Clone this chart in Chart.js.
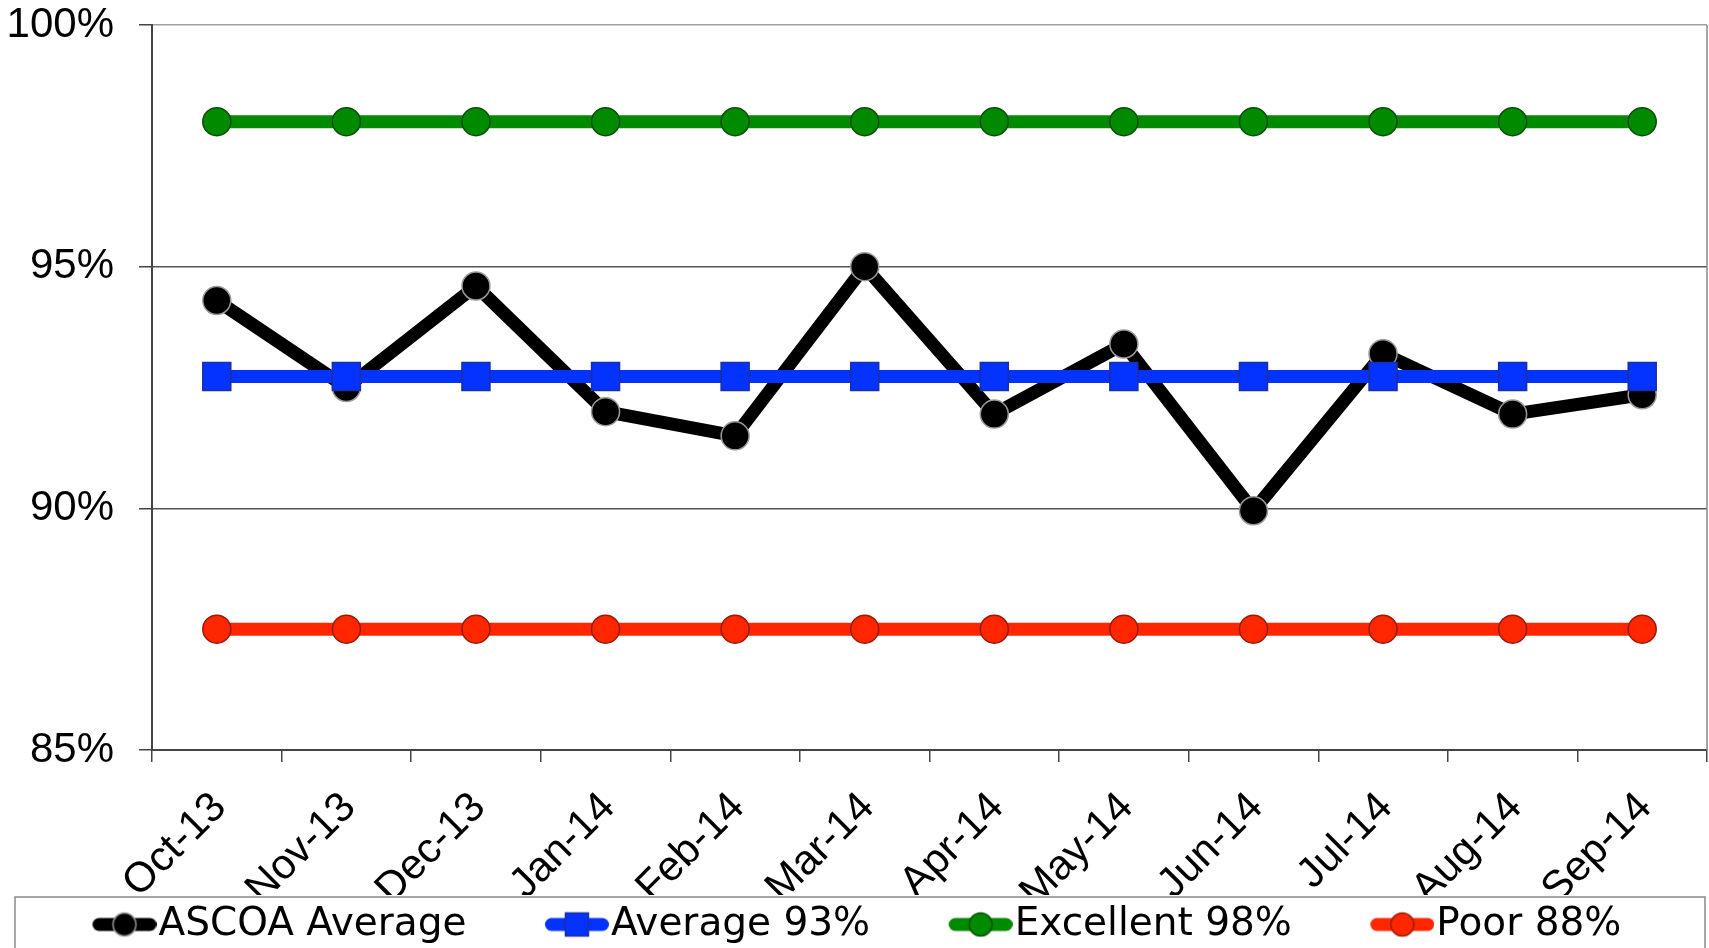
<!DOCTYPE html>
<html>
<head>
<meta charset="utf-8">
<script src="https://cdn.jsdelivr.net/npm/chart.js@4.4.1/dist/chart.umd.min.js"></script>
<style>
  html, body { margin: 0; padding: 0; background: #fff; }
  #wrap { width: 1709px; height: 948px; position: relative; }
</style>
</head>
<body>
<div id="wrap"><canvas id="c"></canvas></div>
<script>
// Monthly categories
const months = ['Oct-13', 'Nov-13', 'Dec-13', 'Jan-14', 'Feb-14', 'Mar-14',
                'Apr-14', 'May-14', 'Jun-14', 'Jul-14', 'Aug-14', 'Sep-14'];

// Series values (percent)
const ascoaAverage = [94.3, 92.5, 94.6, 92.0, 91.5, 95.0, 91.95, 93.4, 89.95, 93.2, 91.95, 92.35];
const average93    = [92.73, 92.73, 92.73, 92.73, 92.73, 92.73, 92.73, 92.73, 92.73, 92.73, 92.73, 92.73];
const excellent98  = [98, 98, 98, 98, 98, 98, 98, 98, 98, 98, 98, 98];
const poor88       = [87.5, 87.5, 87.5, 87.5, 87.5, 87.5, 87.5, 87.5, 87.5, 87.5, 87.5, 87.5];

// Series names
const seriesNames = ['ASCOA Average', 'Average 93%', 'Excellent 98%', 'Poor 88%'];

// Y axis range and tick step
const yMin = 85, yMax = 100, yStep = 5;

const AXIS_FONT = 'Liberation Sans, Arial, sans-serif';
const LEGEND_FONT = 'DejaVu Sans, Verdana, sans-serif';

// Legend swatch: thick rounded line with the series marker in the middle
function legendSwatch(color, markerFill, markerStroke, shape) {
  const w = 150, h = 32;
  const cv = document.createElement('canvas');
  cv.width = w; cv.height = h;
  const g = cv.getContext('2d');
  const x0 = w - 64 + 6.5, x1 = w - 6.5, cy = h / 2;
  g.strokeStyle = color;
  g.lineWidth = 13;
  g.lineCap = 'round';
  g.beginPath(); g.moveTo(x0, cy); g.lineTo(x1, cy); g.stroke();
  const cx = w - 32;
  g.fillStyle = markerFill;
  g.strokeStyle = markerStroke;
  g.lineWidth = 1.5;
  g.beginPath();
  if (shape === 'rect') {
    g.rect(cx - 11.5, cy - 11.5, 23, 23);
  } else {
    g.arc(cx, cy, 11.5, 0, Math.PI * 2);
  }
  g.fill(); g.stroke();
  return cv;
}

const styles = [
  { line: '#000000', fill: '#000000', stroke: '#9a9a9a', shape: 'circle', radius: 14, order: 2 },
  { line: '#0433FF', fill: '#0433FF', stroke: '#1b2f9e', shape: 'rect',   radius: 19.8, order: 1 },
  { line: '#008A00', fill: '#008A00', stroke: '#0b4d0b', shape: 'circle', radius: 14, order: 3 },
  { line: '#FF2600', fill: '#FF2600', stroke: '#9a1a00', shape: 'circle', radius: 14, order: 4 }
];

const seriesData = [ascoaAverage, average93, excellent98, poor88];

const datasets = seriesData.map((d, i) => {
  const s = styles[i];
  return {
    label: seriesNames[i],
    data: d,
    order: s.order,
    borderColor: s.line,
    backgroundColor: s.fill,
    borderWidth: 13,
    borderJoinStyle: 'round',
    borderCapStyle: 'butt',
    tension: 0,
    fill: false,
    pointStyle: s.shape,
    pointRadius: s.radius,
    pointHoverRadius: s.radius,
    pointBackgroundColor: s.fill,
    pointBorderColor: s.stroke,
    pointBorderWidth: 1.5
  };
});

const swatches = styles.map(s => legendSwatch(s.line, s.fill, s.stroke, s.shape));

// Right frame edge of the plot and the box around the legend
const framePlugin = {
  id: 'frame',
  afterLayout(chart) {
    // let the y tick labels use the full left margin without being clipped
    chart.scales.y.left = 0;
  },
  beforeDatasetsDraw(chart) {
    const { ctx, chartArea } = chart;
    ctx.save();
    ctx.strokeStyle = '#8a8a8a';
    ctx.lineWidth = 1.5;
    ctx.beginPath();
    ctx.moveTo(chartArea.right, chartArea.top);
    ctx.lineTo(chartArea.right, chartArea.bottom);
    ctx.stroke();
    ctx.restore();
  },
  afterDraw(chart) {
    const lg = chart.legend;
    if (!lg) return;
    const ctx = chart.ctx;
    ctx.save();
    ctx.strokeStyle = '#8a8a8a';
    ctx.lineWidth = 1.5;
    ctx.strokeRect(lg.left + 1, lg.top + 2, lg.right - lg.left - 3, 200);
    ctx.restore();
  }
};

new Chart(document.getElementById('c'), {
  type: 'line',
  data: { labels: months, datasets },
  plugins: [framePlugin],
  options: {
    responsive: true,
    maintainAspectRatio: false,
    animation: false,
    events: [],
    layout: { autoPadding: false, padding: { left: 14, right: 2, top: 25, bottom: -6 } },
    plugins: {
      tooltip: { enabled: false },
      legend: {
        position: 'bottom',
        align: 'start',
        labels: {
          usePointStyle: true,
          pointStyleWidth: 115,
          padding: 10,
          color: '#000',
          font: { family: LEGEND_FONT, size: 39 },
          generateLabels(chart) {
            return chart.data.datasets.map((ds, i) => ({
              text: ds.label,
              datasetIndex: i,
              pointStyle: swatches[i],
              fillStyle: ds.backgroundColor,
              strokeStyle: ds.borderColor,
              lineWidth: 0,
              hidden: false,
              fontColor: '#000'
            }));
          }
        }
      }
    },
    scales: {
      x: {
        offset: true,
        grid: {
          offset: true,
          drawOnChartArea: false,
          tickLength: 12,
          color: '#444',
          lineWidth: 1.5
        },
        border: { color: '#444', width: 2 },
        ticks: {
          autoSkip: false,
          maxRotation: 45,
          minRotation: 45,
          padding: 21,
          labelOffset: 3,
          color: '#000',
          font: { family: AXIS_FONT, size: 42 }
        },
        afterFit(scale) {
          scale.height = 145;
          scale.paddingLeft = 0;
          scale.paddingRight = 0;
        }
      },
      y: {
        min: yMin,
        max: yMax,
        grid: {
          color: c => (c.tick && c.tick.value === yMax) ? '#a0a0a0' : '#555',
          tickColor: '#444',
          tickLength: 13,
          lineWidth: 1.5
        },
        border: { color: '#444', width: 2 },
        ticks: {
          stepSize: yStep,
          padding: 25,
          color: '#000',
          font: { family: AXIS_FONT, size: 42 },
          callback: v => v + '%'
        },
        afterFit(scale) {
          scale.width = 138;
          scale.paddingTop = 0;
          scale.paddingBottom = 0;
        }
      }
    }
  }
});
</script>
</body>
</html>
